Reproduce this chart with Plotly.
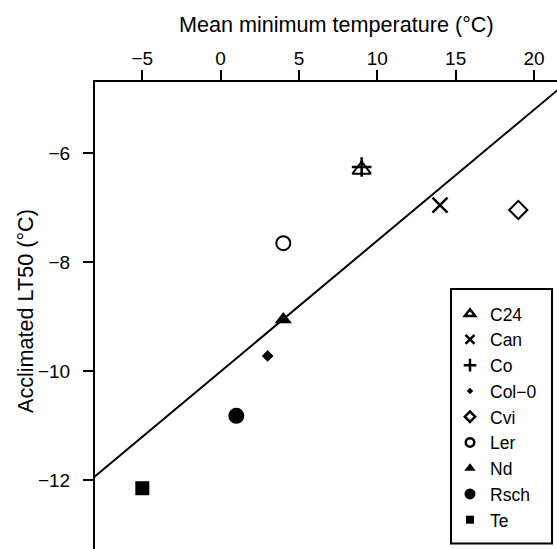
import plotly.graph_objects as go

# Data
names = ["C24", "Can", "Co", "Col\u22120", "Cvi", "Ler", "Nd", "Rsch", "Te"]
mean_min_temp = [9, 14, 9, 3, 19, 4, 4, 1, -5]
lt50 = [-6.3, -6.95, -6.25, -9.72, -7.04, -7.65, -9.05, -10.82, -12.15]

# Regression line end points
line_x = [-8.05, 21.5]
line_y = [-11.94, -4.84]

x_ticks = [-5, 0, 5, 10, 15, 20]
y_ticks = [-12, -10, -8, -6]

symbols = ["triangle-up-open", "x-thin-open", "cross-thin-open", "diamond", "diamond-open",
           "circle-open", "triangle-up", "circle", "square"]
sizes = [16, 15, 14, 9, 14, 14, 15, 16, 14]
line_widths = [2, 2.5, 2.5, 0, 2, 2, 0, 0, 0]
legend_sizes = [9, 9, 9, 5, 8, 8.5, 10, 11, 8]
legend_line_widths = [2.5, 2.5, 2.5, 0, 2.5, 2.5, 0, 0, 0]

FONT = "Liberation Sans, Arial, sans-serif"

fig = go.Figure()
fig.add_trace(go.Scatter(x=line_x, y=line_y, mode="lines",
                         line=dict(color="black", width=2), showlegend=False,
                         hoverinfo="skip"))
for n, xv, yv, s, sz, lw in zip(names, mean_min_temp, lt50, symbols, sizes, line_widths):
    fig.add_trace(go.Scatter(
        x=[xv], y=[yv], mode="markers", name=n, showlegend=False,
        marker=dict(symbol=s, size=sz, color="black",
                    line=dict(color="black", width=lw)),
    ))
# legend entries (smaller symbols, as in the reference legend)
for n, s, sz, lw in zip(names, symbols, legend_sizes, legend_line_widths):
    fig.add_trace(go.Scatter(
        x=[None], y=[None], mode="markers", name=n, showlegend=True,
        marker=dict(symbol=s, size=sz, color="black",
                    line=dict(color="black", width=lw)),
    ))

L, T = 95, 82
W, H = 557, 549
pw, ph = W - L, H - T


def px_x(p):
    return (p - L) / pw


def px_y(p):
    return 1 - (p - T) / ph


fig.update_layout(
    width=W, height=H,
    margin=dict(l=L, r=0, t=T, b=0, pad=0),
    paper_bgcolor="white", plot_bgcolor="white",
    font=dict(family=FONT, color="black", size=19),
    xaxis=dict(side="top", range=[-8.02, 21.47], tickvals=x_ticks,
               ticktext=[str(v).replace("-", "\u2212") for v in x_ticks],
               showgrid=False, zeroline=False, showline=True, linecolor="black",
               linewidth=2, ticks="outside", ticklen=10, tickwidth=2, tickcolor="black",
               tickfont=dict(size=19), ticklabelstandoff=-3),
    yaxis=dict(range=[-13.266, -4.69], tickvals=y_ticks,
               ticktext=[str(v).replace("-", "\u2212") for v in y_ticks],
               showgrid=False, zeroline=False, showline=True, linecolor="black",
               linewidth=2, ticks="outside", ticklen=10, tickwidth=2, tickcolor="black",
               tickfont=dict(size=19), ticklabelstandoff=9),
    legend=dict(x=px_x(450), y=px_y(288), xanchor="left", yanchor="top",
                borderwidth=0, bgcolor="rgba(0,0,0,0)",
                font=dict(size=17.5),
                title=dict(text=".", font=dict(size=6, color="white"))),
    shapes=[dict(type="rect", xref="paper", yref="paper",
                 x0=px_x(451), x1=px_x(552), y0=px_y(543.5), y1=px_y(289),
                 line=dict(color="black", width=2), fillcolor="white", layer="above")],
    annotations=[
        dict(text="Mean minimum temperature (\u00b0C)", xref="paper", yref="paper",
             x=px_x(336), y=px_y(25), xanchor="center", yanchor="middle",
             showarrow=False, font=dict(size=21.6)),
        dict(text="Acclimated LT50 (\u00b0C)", xref="paper", yref="paper",
             x=px_x(25), y=px_y(311), xanchor="center", yanchor="middle",
             textangle=-90, showarrow=False, font=dict(size=21.6)),
    ],
)

fig.write_html("out.html")
